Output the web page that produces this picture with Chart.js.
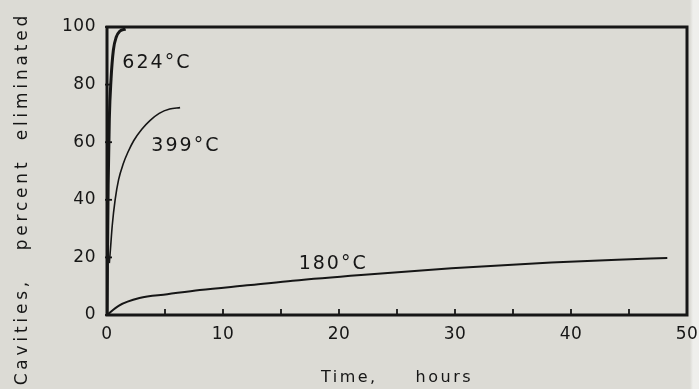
<!DOCTYPE html>
<html>
<head>
<meta charset="utf-8">
<script src="https://cdn.jsdelivr.net/npm/chart.js@4"></script>
<style>
  html, body { margin: 0; padding: 0; }
  body { background: linear-gradient(to right, #dcdbd5 690px, #efefec 693px); }
  #wrap { width: 699px; height: 389px; }
</style>
</head>
<body>
<div id="wrap"><canvas id="cavities"></canvas></div>
<script>
// Cavities eliminated (%) vs annealing time (hours)
const hours624 = [0, 0.1, 0.2, 0.35, 0.55, 0.8, 1.1, 1.6];
const pct624 = [0, 45, 68, 82, 92, 96.5, 98.5, 99.3];

const hours399 = [0.2, 0.3, 0.45, 0.7, 1.0, 1.4, 1.8, 2.3, 3.0, 3.7, 4.5, 5.4, 6.3];
const pct399 = [18, 23, 31, 40, 47, 52.5, 56.5, 60.5, 64.5, 67.5, 70, 71.5, 72];

const hours180 = [0, 1, 2.8, 5.2, 8, 12.4, 16, 21.9, 29.7, 38.3, 44, 48.3];
const pct180 = [0, 3.2, 5.9, 7.2, 8.7, 10.4, 11.9, 13.9, 16.2, 18.2, 19.2, 19.8];

const curveLabels = ["624°C", "399°C", "180°C"];
const labelHours = [4.3, 6.8, 19.5];
const labelPct = [87.5, 58.7, 17.7];

const xTicks = [0, 10, 20, 30, 40, 50];
const yTicks = [0, 20, 40, 60, 80, 100];

function toPoints(xs, ys) {
  return xs.map((x, i) => ({ x: x, y: ys[i] }));
}

const ink = "#161616";
const fontFamily = "'DejaVu Sans', sans-serif";

// wider letter spacing only for the axis titles
function spacedTitle(spacing) {
  return function (scale) {
    scale.paddingLeft = 0;
    scale.paddingRight = 0;
    if (!scale._spaced) {
      const orig = scale.drawTitle;
      scale.drawTitle = function () {
        const ctx = this.ctx;
        const prev = ctx.letterSpacing;
        ctx.letterSpacing = spacing;
        orig.apply(this, arguments);
        ctx.letterSpacing = prev;
      };
      scale._spaced = true;
    }
  };
}

// frame, inward ticks and curve labels
const framePlugin = {
  id: "frame",
  beforeDraw(chart) {
    chart.ctx.letterSpacing = "0.5px";
  },
  afterDatasetsDraw(chart) {
    const ctx = chart.ctx;
    const a = chart.chartArea;
    const xs = chart.scales.x;
    const ys = chart.scales.y;
    ctx.save();
    ctx.strokeStyle = ink;
    ctx.lineWidth = 1.8;
    xs.ticks.forEach((t) => {
      const px = xs.getPixelForValue(t.value);
      ctx.beginPath();
      ctx.moveTo(px, a.bottom);
      ctx.lineTo(px, a.bottom - 6);
      ctx.stroke();
    });
    ys.ticks.forEach((t) => {
      const py = ys.getPixelForValue(t.value);
      ctx.beginPath();
      ctx.moveTo(a.left - 2, py);
      ctx.lineTo(a.left + 5, py);
      ctx.stroke();
    });
    ctx.lineWidth = 3;
    ctx.strokeRect(a.left, a.top, a.right - a.left, a.bottom - a.top);

    ctx.fillStyle = ink;
    ctx.font = "19px " + fontFamily;
    ctx.letterSpacing = "2px";
    ctx.textAlign = "center";
    ctx.textBaseline = "middle";
    curveLabels.forEach((txt, i) => {
      ctx.fillText(txt, xs.getPixelForValue(labelHours[i]), ys.getPixelForValue(labelPct[i]));
    });
    ctx.restore();
  },
};

new Chart("cavities", {
  type: "line",
  data: {
    datasets: [
      {
        label: curveLabels[0],
        data: toPoints(hours624, pct624),
        borderColor: ink,
        borderWidth: 3,
        pointRadius: 0,
        cubicInterpolationMode: "monotone",
      },
      {
        label: curveLabels[1],
        data: toPoints(hours399, pct399),
        borderColor: ink,
        borderWidth: 1.6,
        pointRadius: 0,
        cubicInterpolationMode: "monotone",
      },
      {
        label: curveLabels[2],
        data: toPoints(hours180, pct180),
        borderColor: ink,
        borderWidth: 2,
        pointRadius: 0,
        cubicInterpolationMode: "monotone",
      },
    ],
  },
  options: {
    responsive: true,
    maintainAspectRatio: false,
    animation: false,
    layout: { padding: { left: 0, top: 27, right: 12, bottom: 0 } },
    plugins: {
      legend: { display: false },
      tooltip: { enabled: false },
    },
    scales: {
      x: {
        type: "linear",
        min: 0,
        max: 50,
        afterFit(scale) {
          scale.height = 74;
          spacedTitle("2.5px")(scale);
        },
        grid: { display: false },
        border: { display: false },
        ticks: {
          stepSize: 5,
          padding: 1,
          color: ink,
          font: { family: fontFamily, size: 17 },
          callback: (v) => (xTicks.includes(v) ? String(v) : ""),
        },
        title: {
          display: true,
          text: "Time,     hours",
          color: ink,
          font: { family: fontFamily, size: 16 },
          padding: { top: 0, bottom: 2 },
        },
      },
      y: {
        type: "linear",
        min: 0,
        max: 100,
        afterFit(scale) {
          scale.width = 107;
          spacedTitle("3.8px")(scale);
        },
        grid: { display: false },
        border: { display: false },
        ticks: {
          stepSize: 20,
          padding: 3,
          color: ink,
          font: { family: fontFamily, size: 17 },
          callback: (v) => (yTicks.includes(v) ? String(v) : ""),
        },
        title: {
          display: true,
          text: "Cavities,   percent  eliminated      ",
          color: ink,
          font: { family: fontFamily, size: 17 },
          padding: { top: 12, bottom: 0 },
        },
      },
    },
  },
  plugins: [framePlugin],
});
</script>
</body>
</html>
